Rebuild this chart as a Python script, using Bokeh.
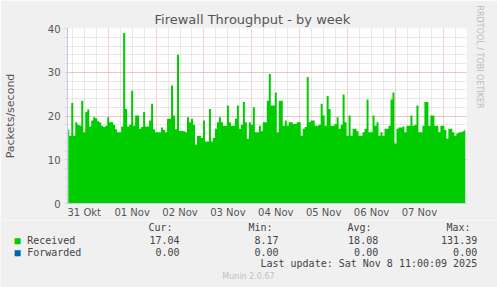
import math
from bokeh.plotting import figure
from bokeh.layouts import column
from bokeh.models import (Range1d, FixedTicker, SingleIntervalTicker, Label,
                          ColumnDataSource, Title)
from bokeh.embed import file_html
from bokeh.resources import INLINE

# ---------------- data ----------------
# hours relative to 01 Nov 00:00, hourly samples
hours = list(range(-20, 180))
received = [
    16.9, 15.5, 23.0, 15.5, 18.6, 18.0, 17.8, 23.5, 16.3, 20.9,
    21.5, 17.6, 19.0, 19.7, 19.5, 18.8, 18.5, 17.8, 17.5, 17.8,
    19.7, 18.6, 18.6, 18.0, 17.0, 16.3, 16.3, 17.6, 39.0, 21.6,
    17.6, 18.0, 25.8, 17.8, 20.1, 20.1, 17.1, 17.5, 20.9, 17.6,
    17.6, 19.0, 22.8, 17.0, 16.3, 16.3, 16.3, 17.4, 16.8, 16.3,
    19.4, 19.4, 27.0, 20.1, 17.0, 34.0, 16.6, 16.6, 16.5, 16.3,
    19.7, 18.6, 19.4, 18.0, 13.5, 15.5, 15.5, 15.0, 19.0, 14.2,
    14.2, 21.6, 14.2, 15.0, 17.1, 18.6, 19.7, 18.6, 17.8, 17.8,
    22.4, 18.6, 17.8, 17.8, 19.4, 22.4, 17.1, 18.0, 23.2, 18.6,
    14.8, 18.6, 18.0, 22.0, 16.3, 16.3, 17.8, 16.5, 18.6, 18.6,
    23.5, 29.6, 22.4, 22.4, 25.4, 16.3, 23.5, 23.5, 17.8, 19.0,
    17.8, 18.6, 18.6, 18.2, 18.2, 18.6, 18.6, 15.5, 17.1, 17.5,
    28.9, 18.6, 19.0, 19.0, 17.8, 17.8, 18.0, 22.8, 20.1, 17.8,
    24.6, 21.6, 17.8, 17.8, 18.2, 19.7, 17.1, 18.0, 24.9, 18.6,
    15.5, 20.1, 15.5, 17.1, 17.1, 16.5, 15.5, 15.5, 16.3, 17.1,
    23.8, 16.3, 16.3, 20.1, 17.8, 18.6, 15.5, 16.3, 15.5, 17.1,
    17.1, 17.8, 23.8, 25.4, 13.7, 17.1, 17.4, 17.4, 17.6, 16.3,
    17.8, 17.8, 20.1, 17.8, 18.0, 22.4, 16.3, 16.3, 17.8, 23.2,
    23.2, 17.8, 20.1, 20.1, 17.8, 17.8, 16.3, 17.8, 17.8, 16.8,
    14.8, 17.1, 17.1, 16.3, 15.5, 16.0, 16.3, 16.3, 16.5, 16.8,
]
forwarded = [0.0] * len(hours)

day_label_hours = [-12, 12, 36, 60, 84, 108, 132, 156]
day_labels = ["31 Okt", "01 Nov", "02 Nov", "03 Nov", "04 Nov", "05 Nov", "06 Nov", "07 Nov"]
midnight_hours = [0, 24, 48, 72, 96, 120, 144, 168]

stat_headers = ["Cur:", "Min:", "Avg:", "Max:"]
received_stats = ["17.04", "8.17", "18.08", "131.39"]
forwarded_stats = ["0.00", "0.00", "0.00", "0.00"]
series_names = ["Received", "Forwarded"]
series_colors = ["#00cc00", "#0066b3"]

title_text = "Firewall Throughput - by week"
y_label_text = "Packets/second"
last_update_text = "Last update: Sat Nov  8 11:00:09 2025"
munin_text = "Munin 2.0.67"
side_text = "RRDTOOL / TOBI OETIKER"

# ---------------- layout ----------------
W = 497
HA, HB = 220, 67             # chart part / legend part heights
FL, FR, FT, FB = 67, 466, 28, 203  # frame edges in canvas px
BG = "#f0f0f0"
TXT = "#555555"

p = figure(width=W, height=HA, output_backend="svg", toolbar_location=None,
           x_range=Range1d(-20.4, 179.6), y_range=Range1d(0, 40),
           min_border_left=FL, min_border_right=W - FR,
           min_border_top=FT, min_border_bottom=HA - FB,
           background_fill_color="white", border_fill_color=BG,
           outline_line_color=None)
p.frame_align = False

src = ColumnDataSource(dict(x=hours, y=received, z=forwarded))
p.varea_step(x="x", y1="z", y2="y", step_mode="center", source=src,
             fill_color=series_colors[0])

# title
p.title.text = title_text
p.title.align = "left"
p.title.offset = 154 - FL
p.title.text_font = "DejaVu Sans"
p.title.text_font_size = "13px"
p.title.text_font_style = "normal"
p.title.text_color = TXT
p.title.standoff = 3

# grid
GRID_MAJOR = "#eea0a0"
GRID_MINOR = "#d2d2d2"
p.yaxis.ticker = SingleIntervalTicker(interval=10, num_minor_ticks=5)
p.ygrid.grid_line_color = GRID_MAJOR
p.ygrid.grid_line_dash = "1 1"
p.ygrid.minor_grid_line_color = GRID_MINOR
p.ygrid.minor_grid_line_dash = "1 1"

minor_x = [h for h in range(-18, 180, 6) if h % 24 != 0]
p.xgrid.ticker = FixedTicker(ticks=midnight_hours, minor_ticks=minor_x)
p.xgrid.grid_line_color = GRID_MAJOR
p.xgrid.grid_line_dash = "1 1"
p.xgrid.minor_grid_line_color = GRID_MINOR
p.xgrid.minor_grid_line_dash = "1 1"

AXIS = "#c8c8f0"
for ax in (p.xaxis[0], p.yaxis[0]):
    ax.axis_line_color = AXIS
    ax.major_label_text_color = TXT
    ax.major_label_text_font = "DejaVu Sans"
    ax.major_label_text_font_size = "10px"

p.yaxis.major_tick_line_color = GRID_MAJOR
p.yaxis.minor_tick_line_color = GRID_MINOR
p.yaxis.major_tick_out = 2
p.yaxis.major_tick_in = 0
p.yaxis.minor_tick_out = 2
p.yaxis.minor_tick_in = 0
p.yaxis.major_label_standoff = 5
p.yaxis.axis_label = y_label_text
p.yaxis.axis_label_text_font = "DejaVu Sans"
p.yaxis.axis_label_text_font_size = "11px"
p.yaxis.axis_label_text_font_style = "normal"
p.yaxis.axis_label_text_color = TXT
p.yaxis.axis_label_standoff = 28

p.xaxis.ticker = FixedTicker(ticks=day_label_hours)
p.xaxis.major_label_overrides = {h: t for h, t in zip(day_label_hours, day_labels)}
p.xaxis.major_tick_line_color = None
p.xaxis.minor_tick_line_color = None
p.xaxis.major_tick_out = 0
p.xaxis.major_tick_in = 0
p.xaxis.major_label_standoff = 3

# vertical credit on the right
p.add_layout(Title(text=side_text, align="left", offset=5 - FT,
                   text_font="DejaVu Sans", text_font_size="8px",
                   text_font_style="normal", text_color="#bbbbbb",
                   standoff=17), "right")

# ---------------- legend part ----------------
# frame fills the whole strip (not aligned to the chart's frame)
q = figure(width=W, height=HB, output_backend="svg", toolbar_location=None,
           x_range=Range1d(0, 1), y_range=Range1d(0, 1),
           x_axis_type=None, y_axis_type=None,
           min_border_left=0, min_border_right=0,
           min_border_top=0, min_border_bottom=0,
           background_fill_color=BG, border_fill_color=BG,
           outline_line_color=None)
q.frame_align = False
q.grid.visible = False


def lab(text, cx, cy, size="10px", color="#444444", align="left",
        font="DejaVu Sans Mono"):
    q.add_layout(Label(x=cx, y=(HA + HB) - cy, x_units="screen", y_units="screen",
                       text=text, text_font=font, text_font_size=size,
                       text_color=color, text_align=align,
                       text_baseline="middle"))


header_right = [172, 272, 371, 470]
value_right = [179, 278, 377.7, 476.7]
for t, xr in zip(stat_headers, header_right):
    lab(t, xr, 227, align="right")

rows_y = [239.5, 251.7]
for name, col, stats, ry in zip(series_names, series_colors,
                                [received_stats, forwarded_stats], rows_y):
    lab("\u25a0", 17, ry, size="10px", color=col, align="center")
    lab(name, 26.7, ry)
    for t, xr in zip(stats, value_right):
        lab(t, xr, ry, align="right")

lab(last_update_text, 482.7, 263.3, align="right")
lab(munin_text, 248, 276, size="8px", color="#c0c0c0", align="center", font="DejaVu Sans")

layout = column(p, q, spacing=0)
open("out.html", "w").write(file_html(layout, INLINE))
